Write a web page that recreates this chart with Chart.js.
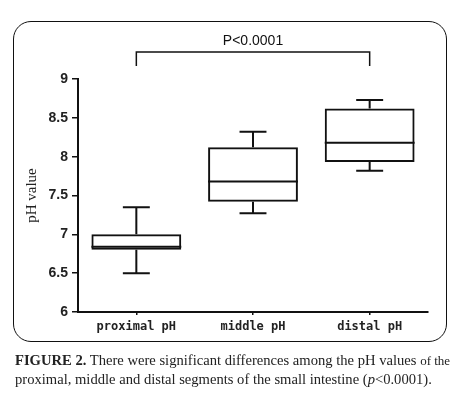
<!DOCTYPE html>
<html>
<head>
<meta charset="utf-8">
<script src="https://cdn.jsdelivr.net/npm/chart.js@4.4.1/dist/chart.umd.min.js"></script>
<style>
  body { margin: 0; background: #fff; }
  #wrap { position: relative; width: 457px; height: 393px; overflow: hidden; }
  #frame {
    position: absolute; left: 13px; top: 21px; width: 432px; height: 319px;
    border: 1.8px solid #111; border-radius: 18px;
  }
  #chart { position: absolute; left: 0; top: 0; }
  #caption {
    position: absolute; left: 15px; top: 351px; width: 440px;
    font-family: 'Liberation Serif', serif; font-size: 14.6px; line-height: 18px; color: #222;
    white-space: nowrap;
  }
  #caption .small { font-size: 13px; }
</style>
</head>
<body>
<div id="wrap">
  <div id="frame"></div>
  <canvas id="chart" width="457" height="393"></canvas>
  <div id="caption">
    <b>FIGURE 2.</b> There were significant differences among the pH values <span class="small">of the</span><br>
    proximal, middle and distal segments of the small intestine (<i>p</i>&lt;0.0001).
  </div>
</div>
<script>
  // box plot values
  const categories = ['proximal pH', 'middle pH', 'distal pH'];
  const whiskerLow = [6.5, 7.27, 7.82];
  const q1 = [6.8, 7.42, 7.93];
  const median = [6.84, 7.68, 8.18];
  const q3 = [7.0, 8.12, 8.62];
  const whiskerHigh = [7.35, 8.32, 8.73];
  const yTickLabels = {6: '6', 6.5: '6.5', 7: '7', 7.5: '7.5', 8: '8', 8.5: '8.5', 9: '9'};
  const pText = 'P<0.0001';

  const boxPlugin = {
    id: 'boxWhiskers',
    afterDatasetsDraw(chart) {
      const ctx = chart.ctx;
      const y = chart.scales.y;
      const meta = chart.getDatasetMeta(0);
      ctx.save();
      ctx.strokeStyle = '#111';
      ctx.lineWidth = 2;
      meta.data.forEach(function(bar, i) {
        const cx = bar.x;
        const half = bar.width / 2;
        const cap = bar.width * 0.15;
        ctx.beginPath();
        // median
        ctx.moveTo(cx - half, y.getPixelForValue(median[i]));
        ctx.lineTo(cx + half, y.getPixelForValue(median[i]));
        // upper whisker
        ctx.moveTo(cx, y.getPixelForValue(q3[i]));
        ctx.lineTo(cx, y.getPixelForValue(whiskerHigh[i]));
        ctx.moveTo(cx - cap, y.getPixelForValue(whiskerHigh[i]));
        ctx.lineTo(cx + cap, y.getPixelForValue(whiskerHigh[i]));
        // lower whisker
        ctx.moveTo(cx, y.getPixelForValue(q1[i]));
        ctx.lineTo(cx, y.getPixelForValue(whiskerLow[i]));
        ctx.moveTo(cx - cap, y.getPixelForValue(whiskerLow[i]));
        ctx.lineTo(cx + cap, y.getPixelForValue(whiskerLow[i]));
        ctx.stroke();
      });

      // significance bracket between first and last group
      const x = chart.scales.x;
      const x0 = x.getPixelForValue(0);
      const x2 = x.getPixelForValue(categories.length - 1);
      ctx.lineWidth = 1.5;
      ctx.beginPath();
      ctx.moveTo(x0, 66);
      ctx.lineTo(x0, 52);
      ctx.lineTo(x2, 52);
      ctx.lineTo(x2, 66);
      ctx.stroke();
      ctx.fillStyle = '#111';
      ctx.font = '14px "Liberation Sans", Arial, sans-serif';
      ctx.textAlign = 'center';
      ctx.textBaseline = 'alphabetic';
      ctx.fillText(pText, (x0 + x2) / 2, 45);
      ctx.restore();
    }
  };

  const ctx = document.getElementById('chart').getContext('2d');
  const chart = new Chart(ctx, {
    type: 'bar',
    data: {
      labels: categories,
      datasets: [{
        data: q1.map((v, i) => [v, q3[i]]),
        backgroundColor: 'rgba(255,255,255,0)',
        borderColor: '#111',
        borderWidth: 2,
        borderSkipped: false,
        barPercentage: 0.77,
        categoryPercentage: 1
      }]
    },
    options: {
      responsive: false,
      animation: false,
      layout: { padding: { left: 23, right: 29, top: 79, bottom: 0 } },
      plugins: { legend: { display: false }, tooltip: { enabled: false } },
      scales: {
        x: {
          offset: true,
          grid: { offset: false, drawOnChartArea: false, drawTicks: true, tickLength: 3, color: '#111', lineWidth: 1.5 },
          border: { display: true, color: '#111', width: 2 },
          ticks: {
            color: '#222', padding: 5,
            font: { family: '"DejaVu Sans Mono", monospace', size: 12, weight: 'bold' }
          },
          afterFit: function(scale) { scale.height = 81; }
        },
        y: {
          min: 6, max: 9,
          grid: { drawOnChartArea: false, drawTicks: true, tickLength: 6, color: '#111', lineWidth: 1.5 },
          border: { display: true, color: '#111', width: 2 },
          ticks: {
            stepSize: 0.25, color: '#222', padding: 4,
            font: { family: '"Liberation Sans", Arial, sans-serif', size: 14, weight: 'bold' },
            callback: function(v) { return yTickLabels[v] || ''; }
          },
          title: {
            display: true, text: 'pH value', color: '#222', padding: 0,
            font: { family: '"Liberation Serif", serif', size: 15 }
          },
          afterFit: function(scale) { scale.width = 55; }
        }
      }
    },
    plugins: [boxPlugin]
  });
</script>
</body>
</html>
